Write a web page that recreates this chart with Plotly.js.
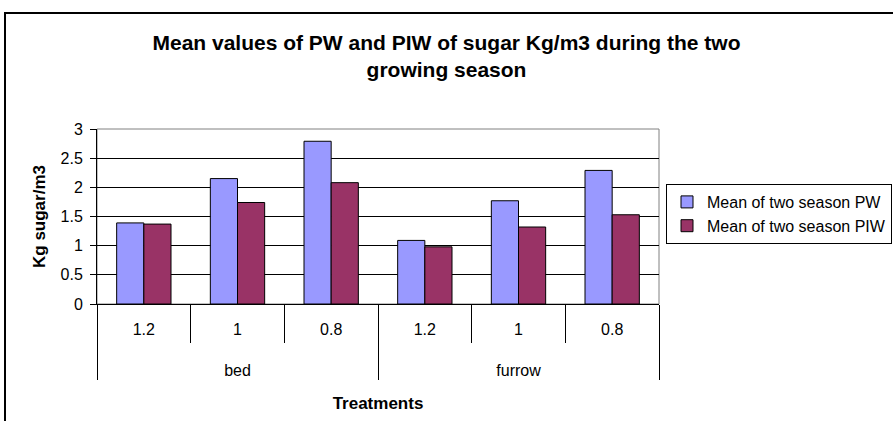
<!DOCTYPE html>
<html>
<head>
<meta charset="utf-8">
<script src="https://cdn.plot.ly/plotly-3.0.1.min.js"></script>
<style>
html,body{margin:0;padding:0;background:#fff;overflow:hidden;}
#wrap{position:relative;width:893px;height:421px;}
#chart{position:absolute;left:0;top:0;width:893px;height:421px;}
#frame{position:absolute;left:4px;top:12px;width:905px;height:420px;border:2px solid #000;pointer-events:none;}
</style>
</head>
<body>
<div id="wrap"><div id="chart"></div><div id="frame"></div></div>
<script>
const groups = ["bed","bed","bed","furrow","furrow","furrow"];
const levels = ["1.2","1","0.8","1.2","1","0.8"];
const pwValues = [1.39, 2.15, 2.79, 1.09, 1.77, 2.29];
const piwValues = [1.37, 1.74, 2.08, 0.98, 1.32, 1.53];
const seriesNames = ["Mean of two season PW", "Mean of two season PIW"];

const FONT = "Liberation Sans, Arial, sans-serif";

// positions derived from the category arrays
const idx = levels.map((_, i) => i);
const innerBounds = [-0.5].concat(idx.map(i => i + 0.5));
const groupNames = [];
const groupStart = [];
groups.forEach((g, i) => { if (i === 0 || g !== groups[i-1]) { groupNames.push(g); groupStart.push(i); } });
const groupEnd = groupStart.map((s, k) => (k + 1 < groupStart.length ? groupStart[k+1] : groups.length) - 1);
const groupCenters = groupStart.map((s, k) => (s + groupEnd[k]) / 2);
const outerBounds = [-0.5].concat(groupEnd.map(e => e + 0.5));

const traces = [
  {type:"bar", name:seriesNames[0], x:idx, y:pwValues, legendgroup:"a",
   marker:{color:"#9999FF", line:{color:"#000", width:1}}},
  {type:"bar", name:seriesNames[1], x:idx, y:piwValues, legendgroup:"b",
   marker:{color:"#993366", line:{color:"#000", width:1}}},
  // carrier for the group-level category axis (draws nothing)
  {type:"scatter", mode:"none", x:groupCenters, y:groupCenters.map(() => 0), xaxis:"x2",
   showlegend:false, hoverinfo:"skip"}
];

const layout = {
  width:893, height:421,
  margin:{l:97, r:234, t:129, b:117},
  paper_bgcolor:"rgba(0,0,0,0)", plot_bgcolor:"#fff",
  font:{family:FONT, size:16, color:"#000"},
  title:{text:"<b>Mean values of PW and PIW of sugar Kg/m3 during the two<br>growing season</b>",
         font:{family:FONT, size:21, color:"#000"}, x:0.5, xref:"container", xanchor:"center",
         y:0.882, yref:"container", yanchor:"top"},
  barmode:"group", bargap:0.42, bargroupgap:0,
  showlegend:true,
  legend:{x:666/893, y:1-184/421, xanchor:"left", yanchor:"top", xref:"container", yref:"container",
          bordercolor:"#000", borderwidth:1, bgcolor:"#fff", traceorder:"grouped", tracegroupgap:0,
          font:{family:FONT, size:16, color:"#000"}, itemwidth:30},
  xaxis:{range:[-0.5, idx.length - 0.5], showline:true, linecolor:"#000", linewidth:1,
         tickmode:"array", tickvals:idx, ticktext:levels, ticks:"",
         ticklabelstandoff:11,
         minor:{tickmode:"array", tickvals:innerBounds, ticks:"outside", ticklen:38, tickcolor:"#000", tickwidth:1, showgrid:false},
         tickfont:{family:FONT, size:16, color:"#000"},
         showgrid:false, zeroline:false},
  xaxis2:{overlaying:"x", anchor:"y", side:"bottom", range:[-0.5, idx.length - 0.5],
         showline:false, tickmode:"array", tickvals:groupCenters, ticktext:groupNames, ticks:"",
         ticklabelstandoff:55,
         minor:{tickmode:"array", tickvals:outerBounds, ticks:"outside", ticklen:75, tickcolor:"#000", tickwidth:1, showgrid:false},
         tickfont:{family:FONT, size:16, color:"#000"},
         showgrid:false, zeroline:false,
         title:{text:"<b>Treatments</b>", font:{family:FONT, size:17, color:"#000"}, standoff:19}},
  yaxis:{range:[0,3], dtick:0.5, tick0:0, showline:true, linecolor:"#000", linewidth:1,
         ticks:"outside", ticklen:6, tickcolor:"#000", tickwidth:1, ticklabelstandoff:4,
         showgrid:true, gridcolor:"#000", gridwidth:1, zeroline:false,
         tickfont:{family:FONT, size:16, color:"#000"},
         title:{text:"<b>Kg sugar/m3</b>", font:{family:FONT, size:17, color:"#000"}, standoff:10}},
  shapes:[{type:"rect", xref:"paper", yref:"paper", x0:0, x1:1, y0:0, y1:1,
           line:{color:"#808080", width:1}, layer:"between"}]
};

Plotly.newPlot("chart", traces, layout, {displayModeBar:false, staticPlot:true});
</script>
</body>
</html>
